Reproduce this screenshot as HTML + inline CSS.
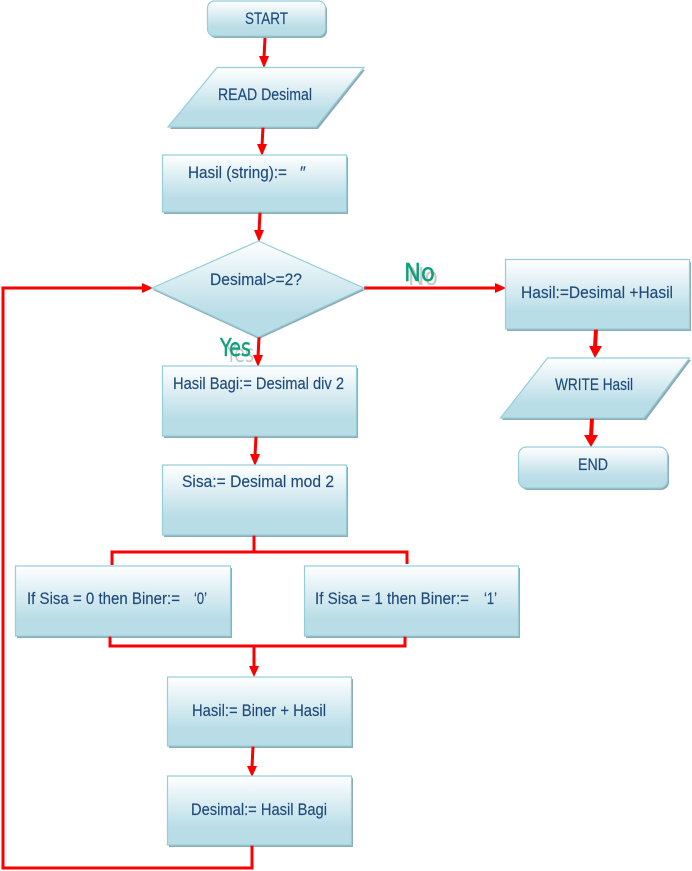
<!DOCTYPE html>
<html>
<head>
<meta charset="utf-8">
<style>
html,body{margin:0;padding:0;background:#fff;width:692px;height:871px;overflow:hidden}
svg{display:block}
.s{fill:#8eabb3}
.b{fill:url(#g);stroke:#94ced9;stroke-width:1.2}
.t{font-family:"Liberation Sans",sans-serif;font-size:16.5px;fill:#1f4a7c;stroke:#1f4a7c;stroke-width:.15}
.l{fill:none;stroke:#fb0000;stroke-width:3}
.a{fill:#fb0000}
.gt{font-family:"DejaVu Sans",sans-serif;font-size:25px;fill:#0fa07a;stroke:#0fa07a;stroke-width:.4}
.gs{font-family:"DejaVu Sans",sans-serif;font-size:25px;fill:#c8c8c8}
</style>
</head>
<body>
<svg width="692" height="871" viewBox="0 0 692 871" xmlns="http://www.w3.org/2000/svg">
<defs>
<linearGradient id="g" x1="0" y1="0" x2="0" y2="1">
<stop offset="0" stop-color="#ffffff"/>
<stop offset="0.75" stop-color="#b9dde7"/>
<stop offset="1" stop-color="#b9dde7"/>
</linearGradient>
</defs>

<!-- shadows -->
<rect class="s" x="209" y="3" width="118" height="35" rx="7"/>
<polygon class="s" points="218,70 365,70 318,129 170,129"/>
<rect class="s" x="164" y="157" width="184" height="57"/>
<polygon class="s" points="259,244 365,290 259,339 153,290"/>
<rect class="s" x="164" y="368" width="194" height="70"/>
<rect class="s" x="164" y="467" width="184" height="70"/>
<rect class="s" x="17" y="568" width="215" height="70"/>
<rect class="s" x="306" y="568" width="214" height="70"/>
<rect class="s" x="169" y="679" width="184" height="69"/>
<rect class="s" x="169" y="778" width="184" height="69"/>
<rect class="s" x="507" y="262" width="184" height="69"/>
<polygon class="s" points="549,360 691,360 646,420 502,420"/>
<rect class="s" x="520" y="449" width="149" height="41" rx="8"/>

<!-- lines -->
<path class="l" d="M265,38 L264,58"/>
<path class="l" d="M263,127 L262,146"/>
<path class="l" d="M260,212 L259,232"/>
<path class="l" d="M259,337 L258,357"/>
<path class="l" d="M256,436 L255,456"/>
<path class="l" d="M254,535 V552 M112,565 V552 H407 V564"/>
<path class="l" d="M110,636 V646 H405 V636 M254,646 V667"/>
<path class="l" d="M253,746 L252,767"/>
<path class="l" d="M252,845 V868 H3 V288 H143"/>
<path class="l" d="M364,288 H497"/>
<path class="l" d="M596,329 L595,348" style="stroke-width:4"/>
<path class="l" d="M592,418 L591,437" style="stroke-width:4"/>

<!-- arrowheads -->
<polygon class="a" points="259,56 269,56 264,68"/>
<polygon class="a" points="257,144 267,144 262,156"/>
<polygon class="a" points="254,230 264,230 259,242"/>
<polygon class="a" points="253,355 263,355 258,367"/>
<polygon class="a" points="250,454 260,454 255,466"/>
<polygon class="a" points="249,666 259,666 254,677"/>
<polygon class="a" points="247,766 257,766 252,777"/>
<polygon class="a" points="142,283 142,293 153,288"/>
<polygon class="a" points="495,283 495,293 506,288"/>
<polygon class="a" points="589,346 602,346 595,358"/>
<polygon class="a" points="584,435 598,435 591,447"/>

<!-- boxes -->
<rect class="b" x="207.5" y="1" width="118" height="35" rx="7"/>
<polygon class="b" points="217,67.5 364,67.5 316,127 168,127"/>
<rect class="b" x="162.5" y="155" width="184" height="57"/>
<polygon class="b" points="258.5,241 364,288 258.5,337 152,288"/>
<rect class="b" x="162.5" y="366" width="194" height="70"/>
<rect class="b" x="162.5" y="465" width="184" height="70"/>
<rect class="b" x="15.5" y="566" width="215" height="70"/>
<rect class="b" x="304.5" y="566" width="214" height="70"/>
<rect class="b" x="167.5" y="677" width="184" height="69"/>
<rect class="b" x="167.5" y="776" width="184" height="69"/>
<rect class="b" x="505.5" y="259.5" width="184" height="69.5"/>
<polygon class="b" points="547.5,358 689.5,358 644,418 500.5,418"/>
<rect class="b" x="518.5" y="447" width="149" height="41" rx="8"/>

<!-- labels -->
<text class="t" x="245" y="24" textLength="43" lengthAdjust="spacingAndGlyphs">START</text>
<text class="t" x="218" y="100" textLength="94" lengthAdjust="spacingAndGlyphs">READ Desimal</text>
<text class="t" x="188" y="178" textLength="99" lengthAdjust="spacingAndGlyphs">Hasil (string):=</text>
<text class="t" x="300" y="178">″</text>
<text class="t" x="210" y="285" textLength="92" lengthAdjust="spacingAndGlyphs">Desimal&gt;=2?</text>
<text class="t" x="173" y="389" textLength="171" lengthAdjust="spacingAndGlyphs">Hasil Bagi:= Desimal div 2</text>
<text class="t" x="182" y="487" textLength="152" lengthAdjust="spacingAndGlyphs">Sisa:= Desimal mod 2</text>
<text class="t" x="27" y="604" textLength="153" lengthAdjust="spacingAndGlyphs">If Sisa = 0 then Biner:=</text>
<text class="t" x="194" y="604" textLength="13" lengthAdjust="spacingAndGlyphs">‘0’</text>
<text class="t" x="315" y="604" textLength="154" lengthAdjust="spacingAndGlyphs">If Sisa = 1 then Biner:=</text>
<text class="t" x="484" y="604" textLength="13" lengthAdjust="spacingAndGlyphs">‘1’</text>
<text class="t" x="192" y="716" textLength="134" lengthAdjust="spacingAndGlyphs">Hasil:= Biner + Hasil</text>
<text class="t" x="191" y="815" textLength="136" lengthAdjust="spacingAndGlyphs">Desimal:= Hasil Bagi</text>
<text class="t" x="521" y="298" textLength="152" lengthAdjust="spacingAndGlyphs">Hasil:=Desimal +Hasil</text>
<text class="t" x="555" y="390" textLength="78" lengthAdjust="spacingAndGlyphs">WRITE Hasil</text>
<text class="t" x="578" y="470" textLength="30" lengthAdjust="spacingAndGlyphs">END</text>

<!-- Yes / No -->
<text class="gs" x="408" y="285" textLength="30" lengthAdjust="spacingAndGlyphs">No</text>
<text class="gt" x="404" y="281" textLength="31" lengthAdjust="spacingAndGlyphs">No</text>
<text class="gs" x="226" y="362" textLength="28" lengthAdjust="spacingAndGlyphs">Yes</text>
<text class="gt" x="220" y="356" textLength="31" lengthAdjust="spacingAndGlyphs">Yes</text>
</svg>
</body>
</html>
